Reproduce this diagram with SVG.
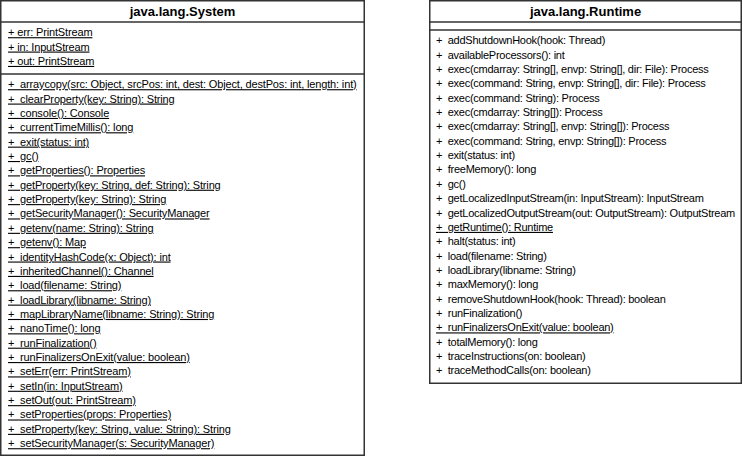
<svg xmlns="http://www.w3.org/2000/svg" width="743" height="456" viewBox="0 0 743 456" xml:space="preserve">
<style>
.box{fill:#fff;stroke:#333;stroke-width:1.5}
.sep{stroke:#333;stroke-width:1.5}
.t{font-family:"Liberation Sans",Arial,sans-serif;font-size:11px;letter-spacing:-0.15px;fill:#000;white-space:pre}
#runtime .t{letter-spacing:-0.26px}
.h{font-family:"Liberation Sans",Arial,sans-serif;font-size:13px;font-weight:bold;fill:#000;text-anchor:middle}
.u{text-decoration:underline}
</style>
<rect width="743" height="456" fill="#fff"/>
<g id="connectors"></g>
<g id="system">
<rect class="box" x="0.75" y="0.75" width="363.5" height="454.5"/>
<line class="sep" x1="0" y1="22" x2="365" y2="22"/>
<line class="sep" x1="0" y1="74" x2="365" y2="74"/>
<text class="h" x="182.5" y="15.5">java.lang.System</text>
<text class="t u" x="8" y="36.2">+ err: PrintStream</text>
<text class="t u" x="8" y="50.56">+ in: InputStream</text>
<text class="t u" x="8" y="64.92">+ out: PrintStream</text>
<text class="t u" x="8" y="88.2">+  arraycopy(src: Object, srcPos: int, dest: Object, destPos: int, length: int)</text>
<text class="t u" x="8" y="102.56">+  clearProperty(key: String): String</text>
<text class="t u" x="8" y="116.92">+  console(): Console</text>
<text class="t u" x="8" y="131.28">+  currentTimeMillis(): long</text>
<text class="t u" x="8" y="145.64">+  exit(status: int)</text>
<text class="t u" x="8" y="160">+  gc()</text>
<text class="t u" x="8" y="174.36">+  getProperties(): Properties</text>
<text class="t u" x="8" y="188.72">+  getProperty(key: String, def: String): String</text>
<text class="t u" x="8" y="203.08">+  getProperty(key: String): String</text>
<text class="t u" x="8" y="217.44">+  getSecurityManager(): SecurityManager</text>
<text class="t u" x="8" y="231.8">+  getenv(name: String): String</text>
<text class="t u" x="8" y="246.16">+  getenv(): Map</text>
<text class="t u" x="8" y="260.52">+  identityHashCode(x: Object): int</text>
<text class="t u" x="8" y="274.88">+  inheritedChannel(): Channel</text>
<text class="t u" x="8" y="289.24">+  load(filename: String)</text>
<text class="t u" x="8" y="303.6">+  loadLibrary(libname: String)</text>
<text class="t u" x="8" y="317.96">+  mapLibraryName(libname: String): String</text>
<text class="t u" x="8" y="332.32">+  nanoTime(): long</text>
<text class="t u" x="8" y="346.68">+  runFinalization()</text>
<text class="t u" x="8" y="361.04">+  runFinalizersOnExit(value: boolean)</text>
<text class="t u" x="8" y="375.4">+  setErr(err: PrintStream)</text>
<text class="t u" x="8" y="389.76">+  setIn(in: InputStream)</text>
<text class="t u" x="8" y="404.12">+  setOut(out: PrintStream)</text>
<text class="t u" x="8" y="418.48">+  setProperties(props: Properties)</text>
<text class="t u" x="8" y="432.84">+  setProperty(key: String, value: String): String</text>
<text class="t u" x="8" y="447.2">+  setSecurityManager(s: SecurityManager)</text>
</g>
<g id="runtime">
<rect class="box" x="429.75" y="0.75" width="311.5" height="382.5"/>
<line class="sep" x1="429" y1="22" x2="742" y2="22"/>
<line class="sep" x1="429" y1="30" x2="742" y2="30"/>
<text class="h" x="585.5" y="15.5">java.lang.Runtime</text>
<text class="t" x="436" y="44.2">+  addShutdownHook(hook: Thread)</text>
<text class="t" x="436" y="58.56">+  availableProcessors(): int</text>
<text class="t" x="436" y="72.92">+  exec(cmdarray: String[], envp: String[], dir: File): Process</text>
<text class="t" x="436" y="87.28">+  exec(command: String, envp: String[], dir: File): Process</text>
<text class="t" x="436" y="101.64">+  exec(command: String): Process</text>
<text class="t" x="436" y="116">+  exec(cmdarray: String[]): Process</text>
<text class="t" x="436" y="130.36">+  exec(cmdarray: String[], envp: String[]): Process</text>
<text class="t" x="436" y="144.72">+  exec(command: String, envp: String[]): Process</text>
<text class="t" x="436" y="159.08">+  exit(status: int)</text>
<text class="t" x="436" y="173.44">+  freeMemory(): long</text>
<text class="t" x="436" y="187.8">+  gc()</text>
<text class="t" x="436" y="202.16">+  getLocalizedInputStream(in: InputStream): InputStream</text>
<text class="t" x="436" y="216.52">+  getLocalizedOutputStream(out: OutputStream): OutputStream</text>
<text class="t u" x="436" y="230.88">+  getRuntime(): Runtime</text>
<text class="t" x="436" y="245.24">+  halt(status: int)</text>
<text class="t" x="436" y="259.6">+  load(filename: String)</text>
<text class="t" x="436" y="273.96">+  loadLibrary(libname: String)</text>
<text class="t" x="436" y="288.32">+  maxMemory(): long</text>
<text class="t" x="436" y="302.68">+  removeShutdownHook(hook: Thread): boolean</text>
<text class="t" x="436" y="317.04">+  runFinalization()</text>
<text class="t u" x="436" y="331.4">+  runFinalizersOnExit(value: boolean)</text>
<text class="t" x="436" y="345.76">+  totalMemory(): long</text>
<text class="t" x="436" y="360.12">+  traceInstructions(on: boolean)</text>
<text class="t" x="436" y="374.48">+  traceMethodCalls(on: boolean)</text>
</g>
</svg>
